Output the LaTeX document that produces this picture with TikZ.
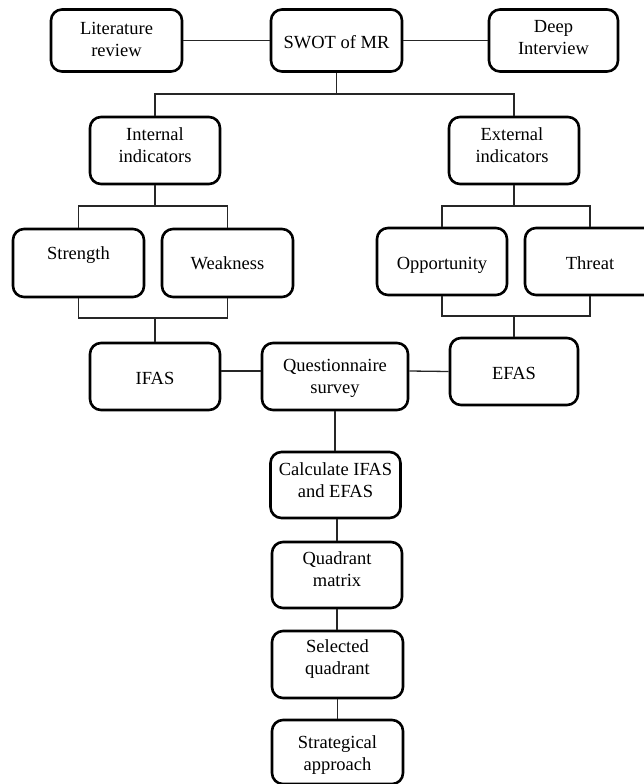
\documentclass[tikz,border=0pt]{standalone}
\usepackage{fontspec}
\setmainfont{Liberation Serif}
\begin{document}
\begin{tikzpicture}[x=1pt,y=-1pt,
  box/.style={draw=black, line width=2.6pt, rounded corners=11pt, fill=white, inner sep=0pt},
  lbl/.style={align=center, inner sep=0pt, font=\fontsize{18.5}{22}\selectfont},
  conn/.style={line width=1.3pt, draw=black!85}]
\useasboundingbox (0,0) rectangle (644,784);
% boxes
\node[box, minimum width=131pt, minimum height=62pt] (lit)   at (116.5,40.5) {};
\node[box, minimum width=131pt, minimum height=62pt] (swot)  at (336.5,40.5) {};
\node[box, minimum width=129pt, minimum height=62pt] (deep)  at (553.5,40.5) {};
\node[box, minimum width=130pt, minimum height=67pt] (int)   at (155,150.5) {};
\node[box, minimum width=130pt, minimum height=67pt] (ext)   at (514,150.5) {};
\node[box, minimum width=131pt, minimum height=68pt] (str)   at (78.5,263) {};
\node[box, minimum width=131pt, minimum height=68pt] (weak)  at (227.5,263) {};
\node[box, minimum width=130pt, minimum height=67pt] (opp)   at (442,261.5) {};
\node[box, minimum width=130pt, minimum height=67pt] (thr)   at (590,261.5) {};
\node[box, minimum width=130pt, minimum height=67pt] (ifas)  at (155,376.5) {};
\node[box, minimum width=146pt, minimum height=67pt] (quest) at (335,376.5) {};
\node[box, minimum width=128pt, minimum height=67pt] (efas)  at (514,371.5) {};
\node[box, minimum width=130pt, minimum height=66pt] (calc)  at (335.5,485) {};
\node[box, minimum width=130pt, minimum height=66pt] (quad)  at (337,575) {};
\node[box, minimum width=131pt, minimum height=67pt] (sel)   at (337.5,664.5) {};
\node[box, minimum width=131pt, minimum height=64pt] (strat) at (337.5,752) {};
% labels
\node[lbl] (litT)   at (116.5,39)  {Literature\\review};
\node[lbl] (swotT)  at (336.5,42)  {SWOT of MR};
\node[lbl] (deepT)  at (553.5,38)  {Deep\\Interview};
\node[lbl] (intT)   at (155,145)   {Internal\\indicators};
\node[lbl] (extT)   at (512,145)   {External\\indicators};
\node[lbl] (strT)   at (78.5,255)  {Strength};
\node[lbl] (weakT)  at (227.5,263) {Weakness};
\node[lbl] (oppT)   at (442,265)   {Opportunity};
\node[lbl] (thrT)   at (590,263)   {Threat};
\node[lbl] (ifasT)  at (155,378)   {IFAS};
\node[lbl] (questT) at (335,378)   {Questionnaire\\survey};
\node[lbl] (efasT)  at (514,373)   {EFAS};
\node[lbl] (calcT)  at (335.5,480) {Calculate IFAS\\and EFAS};
\node[lbl] (quadT)  at (337,569)   {Quadrant\\matrix};
\node[lbl] (selT)   at (337.5,659) {Selected\\quadrant};
\node[lbl] (stratT) at (337.5,755) {Strategical\\approach};
% junction points
\coordinate (b1) at (336.5,94);
\coordinate (b2) at (155,206);
\coordinate (b3) at (155,318);
\coordinate (b4) at (514,206);
\coordinate (b5) at (514,316);
% connectors
\draw[conn] (lit.east) -- (swot.west);
\draw[conn] (swot.east) -- (deep.west);
\draw[conn] (swot.south) -- (b1);
\draw[conn] (int.north) |- (b1) -| (ext.north);
\draw[conn] (int.south) -- (b2);
\draw[conn] (str.north) |- (b2) -| (weak.north);
\draw[conn] (str.south) |- (b3) -| (weak.south);
\draw[conn] (b3) -- (ifas.north);
\draw[conn] (ext.south) -- (b4);
\draw[conn] (opp.north) |- (b4) -| (thr.north);
\draw[conn] (opp.south) |- (b5) -| (thr.south);
\draw[conn] (b5) -- (efas.north);
\draw[conn] ([yshift=5.5pt]ifas.east) -- ([yshift=5.5pt]quest.west);
\draw[conn] ([yshift=5.5pt]quest.east) -- (efas.west);
\draw[conn] (quest.south) -- (quest.south |- calc.north);
\draw[conn] (calc.south -| quad.north) -- (quad.north);
\draw[conn] (quad.south) -- (quad.south |- sel.north);
\draw[conn] (sel.south) -- (strat.north);
\end{tikzpicture}
\end{document}
